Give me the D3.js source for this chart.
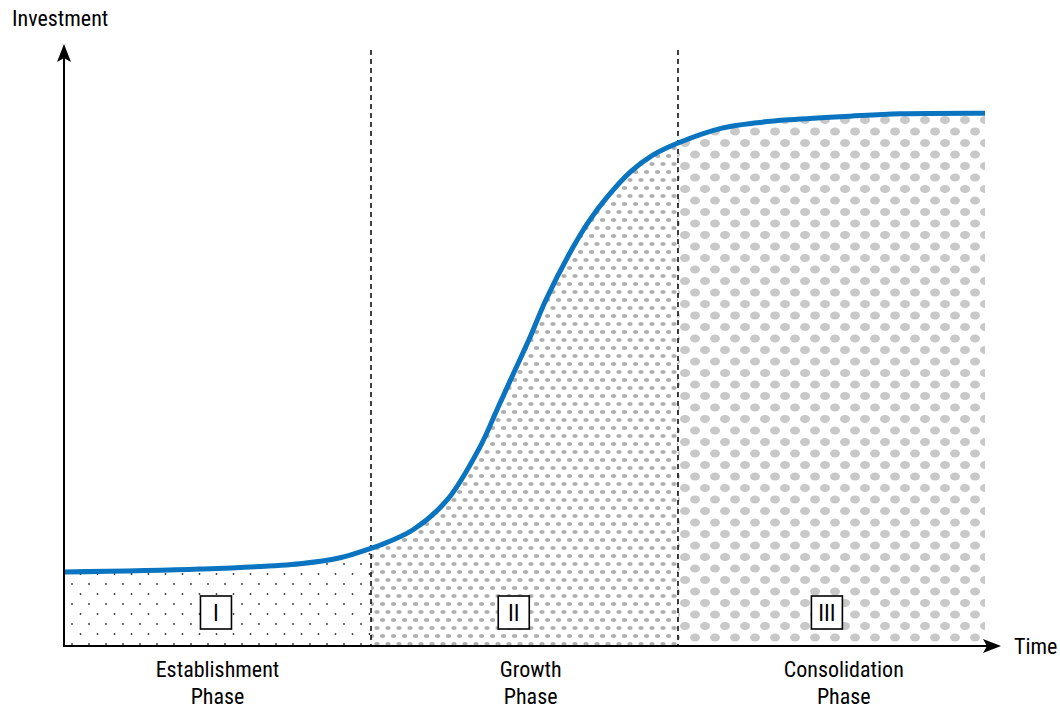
<!DOCTYPE html>
<html>
<head>
<meta charset="utf-8">
<script src="https://cdn.jsdelivr.net/npm/d3@7"></script>
<style>
  body { margin: 0; background: #fff; }
  text { font-family: "Liberation Sans Narrow", "Arial Narrow", "Roboto Condensed", sans-serif; }
</style>
</head>
<body>
<div id="chart"></div>
<script>
// curve: time (0..30) vs investment (0..100)
const timeVals = [0, 4.43, 7.69, 8.99, 10.0, 10.29, 11.37, 12.48, 13.55, 14.1, 14.63, 15.18, 15.7, 16.58, 17.13, 17.69, 18.44, 19.19, 20.0, 21.43, 22.57, 23.65, 25.6, 27.23, 30]
const investVals = [12.4, 12.9, 13.8, 14.8, 16.4, 16.9, 19.5, 24.5, 33.4, 39.6, 45.6, 51.8, 58.1, 66.9, 71.5, 75.3, 79.5, 82.4, 84.4, 86.9, 87.8, 88.3, 88.9, 89.3, 89.4]

const phaseStarts = [0, 10, 20]
const phaseEnds = [10, 20, 30]
const phaseNumerals = ["I", "II", "III"]
const phaseNames = [["Establishment", "Phase"], ["Growth", "Phase"], ["Consolidation", "Phase"]]
const phaseLabelPos = [4.95, 14.65, 24.85]   // where the little boxes sit
const phaseNamePos = [5.0, 15.2, 25.4]

const width = 1060, height = 709

const svg = d3.select("#chart").append("svg")
    .attr("width", width)
    .attr("height", height)

const x = d3.scaleLinear([0, 30], [64, 985])
const y = d3.scaleLinear([0, 100], [646, 50])

let data = timeVals.map((t, i) => ({ t: t, v: investVals[i] }))

let defs = svg.append("defs")

// pattern I: small black dots
let p1 = defs.append("pattern").attr("id", "pat1")
    .attr("patternUnits", "userSpaceOnUse")
    .attr("width", 17).attr("height", 20)
p1.append("circle").attr("cx", 4).attr("cy", 4).attr("r", 0.9).attr("fill", "#333")
p1.append("circle").attr("cx", 12.5).attr("cy", 14).attr("r", 0.9).attr("fill", "#333")

// pattern II: small grey dots
let p2 = defs.append("pattern").attr("id", "pat2")
    .attr("patternUnits", "userSpaceOnUse")
    .attr("width", 11).attr("height", 16)
p2.append("ellipse").attr("cx", 3).attr("cy", 4).attr("rx", 2.7).attr("ry", 2).attr("fill", "#b0b0b0")
p2.append("ellipse").attr("cx", 8.5).attr("cy", 12).attr("rx", 2.7).attr("ry", 2).attr("fill", "#b0b0b0")

// pattern III: bigger grey dots
let p3 = defs.append("pattern").attr("id", "pat3")
    .attr("patternUnits", "userSpaceOnUse")
    .attr("width", 20).attr("height", 23)
p3.append("ellipse").attr("cx", 5).attr("cy", 5).attr("rx", 5).attr("ry", 4).attr("fill", "#c8c8c8")
p3.append("ellipse").attr("cx", 15).attr("cy", 16.5).attr("rx", 5).attr("ry", 4).attr("fill", "#c8c8c8")

phaseStarts.forEach((s, i) => {
    defs.append("clipPath").attr("id", "clip" + i)
        .append("rect")
        .attr("x", x(s)).attr("y", 0)
        .attr("width", x(phaseEnds[i]) - x(s))
        .attr("height", y(0))
})

let area = d3.area()
    .x(d => x(d.t))
    .y0(y(0))
    .y1(d => y(d.v))
    .curve(d3.curveCatmullRom.alpha(0.5))

let line = d3.line()
    .x(d => x(d.t))
    .y(d => y(d.v))
    .curve(d3.curveCatmullRom.alpha(0.5))

phaseStarts.forEach((s, i) => {
    svg.append("path")
        .datum(data)
        .attr("d", area)
        .attr("fill", "url(#pat" + (i + 1) + ")")
        .attr("clip-path", "url(#clip" + i + ")")
})

// dashed phase separators
svg.selectAll(".sep")
    .data(phaseStarts.slice(1))
    .join("line")
    .attr("x1", d => x(d)).attr("x2", d => x(d))
    .attr("y1", 50).attr("y2", y(0))
    .attr("stroke", "#000")
    .attr("stroke-width", 1.5)
    .attr("stroke-dasharray", "5,4")

// the curve
svg.append("path")
    .datum(data)
    .attr("d", line)
    .attr("fill", "none")
    .attr("stroke", "#0a74c0")
    .attr("stroke-width", 5)

// axes with arrows
svg.append("line")
    .attr("x1", x(0)).attr("x2", x(0))
    .attr("y1", y(0) + 1).attr("y2", 58)
    .attr("stroke", "#000").attr("stroke-width", 2)
svg.append("path")
    .attr("d", `M${x(0)},44 L${x(0) - 7},62 L${x(0)},58 L${x(0) + 7},62 Z`)
    .attr("fill", "#000")

svg.append("line")
    .attr("x1", x(0) - 1).attr("x2", 988)
    .attr("y1", y(0)).attr("y2", y(0))
    .attr("stroke", "#000").attr("stroke-width", 2)
svg.append("path")
    .attr("d", `M1001,${y(0)} L983,${y(0) - 7} L987,${y(0)} L983,${y(0) + 7} Z`)
    .attr("fill", "#000")

svg.append("text")
    .attr("x", 12).attr("y", 26)
    .attr("font-size", 22)
    .text("Investment")

svg.append("text")
    .attr("x", 1014).attr("y", 654)
    .attr("font-size", 22)
    .text("Time")

// phase number boxes
phaseLabelPos.forEach((p, i) => {
    let cx = x(p)
    svg.append("rect")
        .attr("x", cx - 15.5).attr("y", 596)
        .attr("width", 31).attr("height", 33)
        .attr("fill", "#fff")
        .attr("stroke", "#000").attr("stroke-width", 1.6)
    svg.append("text")
        .attr("x", cx).attr("y", 621)
        .attr("text-anchor", "middle")
        .attr("font-size", 23)
        .text(phaseNumerals[i])
})

// phase names under the axis
phaseNamePos.forEach((p, i) => {
    let t = svg.append("text")
        .attr("text-anchor", "middle")
        .attr("font-size", 22)
    t.append("tspan").attr("x", x(p)).attr("y", 677).text(phaseNames[i][0])
    t.append("tspan").attr("x", x(p)).attr("y", 704).text(phaseNames[i][1])
})
</script>
</body>
</html>
